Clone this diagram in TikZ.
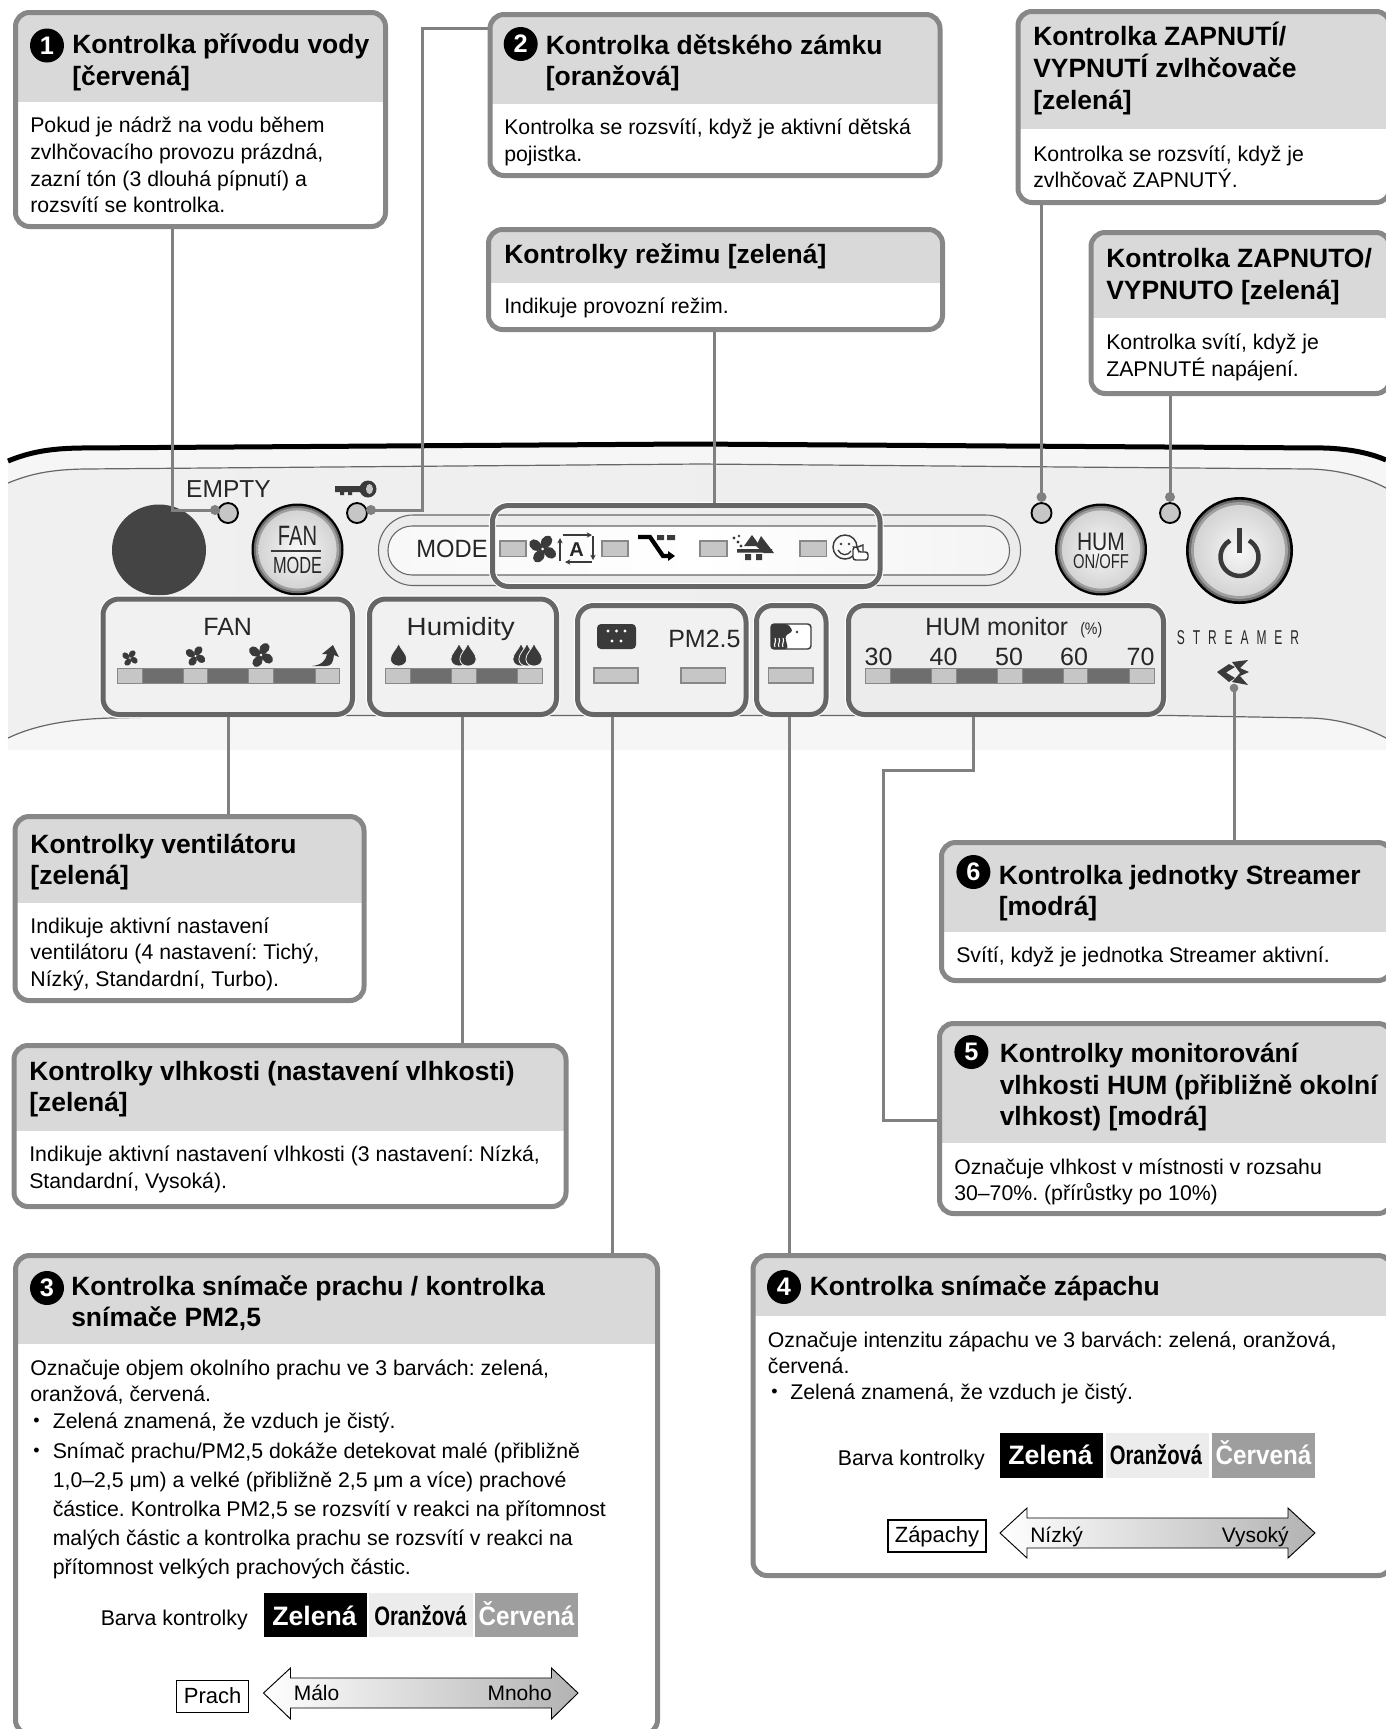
\documentclass[tikz,border=0pt]{standalone}
\usepackage{fontspec}
\usepackage{graphicx}
\usetikzlibrary{fit,arrows.meta}
\setmainfont{Liberation Sans}
\AtBeginDocument{\frenchspacing}
\definecolor{hdrc}{HTML}{D9D9D9}
\definecolor{boxc}{HTML}{878787}
\definecolor{connc}{HTML}{808080}
\definecolor{grpc}{HTML}{666666}
\definecolor{ledl}{HTML}{C6C6C6}
\definecolor{ledd}{HTML}{6E6E6E}
\definecolor{ledb}{HTML}{888888}
\definecolor{icdk}{HTML}{3A3A3A}
\definecolor{pnla}{HTML}{FCFCFC}
\definecolor{pnlb}{HTML}{F1F1F1}
\definecolor{pnlc}{HTML}{ECECEC}
\definecolor{pnld}{HTML}{F8F8F8}
\definecolor{strb}{HTML}{F6F6F6}
\pgfdeclarehorizontalshading{panelsh}{100bp}{color(0bp)=(pnla); color(8bp)=(pnlb); color(92bp)=(pnlc); color(100bp)=(pnld)}
\pgfdeclarehorizontalshading{outersh}{100bp}{color(0bp)=(white); color(8bp)=(strb); color(92bp)=(strb); color(100bp)=(white)}
\pgfdeclarehorizontalshading{pillsh}{100bp}{color(0bp)=(pnlb); color(50bp)=(white); color(100bp)=(hdrc!60!white)}
\tikzset{
 boxline/.style={rectangle,draw=boxc,line width=3.75pt,rounded corners=10.5pt,inner sep=0pt},
 ttl/.style={anchor=north west,inner sep=0pt,align=left,font=\fontsize{19.85pt}{23.6pt}\bfseries\selectfont},
 bod/.style={anchor=north west,inner sep=0pt,align=left,font=\fontsize{15.95pt}{20pt}\selectfont},
 bodb/.style={anchor=north west,inner sep=0pt,align=left,font=\fontsize{15.95pt}{21.8pt}\selectfont},
 badge/.style={circle,fill=black,text=white,inner sep=0pt,minimum size=25.5pt,font=\fontsize{19pt}{19pt}\bfseries\selectfont},
 conn/.style={draw=connc,line width=2.25pt,line join=miter},
 dotc/.style={circle,fill=connc,inner sep=0pt,minimum size=7.5pt},
 ledc/.style={circle,draw=black,line width=1.4pt,fill=ledl,inner sep=0pt,minimum size=15pt},
 ledrect/.style={draw=ledb,fill=ledl,line width=.8pt},
 grp/.style={rectangle,draw=grpc,line width=3.75pt,rounded corners=12pt,inner sep=0pt},
 pnl/.style={anchor=base,inner sep=0pt,text=black!85,font=\fontsize{18.75pt}{20pt}\selectfont},
 swatch/.style={anchor=base,inner sep=0pt,font=\fontsize{20pt}{20pt}\bfseries\selectfont},
 smallt/.style={anchor=base west,inner sep=0pt,font=\fontsize{15.75pt}{20pt}\selectfont},
 legt/.style={anchor=base,inner sep=0pt,font=\fontsize{16pt}{20pt}\selectfont},
 legbox/.style={draw=black,line width=.8pt,inner sep=0pt,text height=13pt,text depth=2.6pt,font=\fontsize{16.5pt}{18pt}\selectfont},
 thinl/.style={draw=icdk,line width=.9pt},
}
\newcommand\sth{\rule{0pt}{24pt}}
\newcommand\bul{{\fontsize{13.5pt}{13.5pt}\selectfont\raisebox{1pt}{•}}}
\newcommand\cnd[2]{\scalebox{#1}[1]{#2}}
\newcommand\callout[6]{%
 \begin{scope}\clip[rounded corners=10.5pt] (#2,#3) rectangle (#4,#5);
 \fill[white] (#2,#3) rectangle (#4,#5);
 \fill[hdrc] (#2,#3) rectangle (#4,#6);
 \end{scope}
 \node[boxline,fit={(#2,#3) (#4,#5)},name=#1] {};}
\newcommand\group[6]{%
 \draw[white,line width=5.4pt,rounded corners=12pt] (#2,#3) rectangle (#4,#5);
 \node[grp,fill=#6,fit={(#2,#3) (#4,#5)},name=#1] {};}
\newcommand\btn[4]{%
 \begin{scope}[shift={(#1,#2)},scale=#3]
 \fill[black] (0,0) circle (10);
 \fill[ledd] (0,0) circle (9.5);
 \fill[black!38] (0,0) circle (9.05);
 \shade[inner color=black!3,outer color=black!17] (0,0) circle (8.5);
 \end{scope}}
\newcommand\fanic[3]{%
 \begin{scope}[shift={(#1,#2)},scale=#3]
 \foreach \a in {20,110,200,290}{\fill[icdk,rotate=\a] (0,0) .. controls (-1.5,-6) and (4,-10.5) .. (8.5,-7) .. controls (11,-3) and (6,1) .. (0,0);}
 \fill[white] (0,0) circle (1.1);
 \end{scope}}
\newcommand\dropic[3]{%
 \begin{scope}[shift={(#1,#2)},scale=#3]
 \path[fill=icdk,draw=pnlb,line width=.6pt] (0,-10) .. controls (2,-5) and (6.5,-2) .. (6.5,2.5) .. controls (6.5,6) and (3.5,8) .. (0,8) .. controls (-3.5,8) and (-6.5,6) .. (-6.5,2.5) .. controls (-6.5,-2) and (-2,-5) .. (0,-10) -- cycle;
 \end{scope}}
\begin{document}
\begin{tikzpicture}[x=0.75pt,y=-0.75pt]
\useasboundingbox (0,0) rectangle (1386,1729);
\clip (0,0) rectangle (1386,1729);
% ---- panel
\shade[shading=outersh] (8,462) .. controls (30,453) and (50,449) .. (80,448.5) -- (690,444) -- (1325,448) .. controls (1350,449) and (1370,453) .. (1386,460) -- (1386,750) -- (8,750) -- cycle;
\shade[shading=panelsh] (8,483) .. controls (30,474) and (50,469.5) .. (85,469) -- (700,464) -- (1311,469) .. controls (1340,470) and (1365,477) .. (1386,488) -- (1386,738) .. controls (1365,727) and (1340,719) .. (1311,718) -- (1170,715.5) -- (230,715.5) -- (112,718) .. controls (70,719) and (35,725) .. (8,738) -- cycle;
\draw[black,line width=3.75pt] (8,461) .. controls (30,452) and (50,448.5) .. (80,448) -- (690,444) -- (1325,448) .. controls (1350,449) and (1370,453) .. (1386,460);
\draw[grpc,line width=.9pt] (8,483) .. controls (30,474) and (50,469.5) .. (85,469) -- (700,464) -- (1311,469) .. controls (1340,470) and (1365,477) .. (1386,488);
\draw[grpc,line width=.9pt] (8,738) .. controls (35,725) and (70,719) .. (112,718) -- (230,715.5) -- (1170,715.5) -- (1311,718) .. controls (1340,719) and (1365,727) .. (1386,738);
% dark circle
\fill[icdk!95!white] (159,550) ellipse (47 and 45.5);
% labels on panel
\node[pnl,font=\fontsize{18.4pt}{20pt}\selectfont] (tEmpty) at (228.5,497) {EMPTY};
% key icon
\fill[icdk] (335,486) -- (366,486) -- (366,492) -- (352,492) -- (352,495) -- (348,495) -- (348,492) -- (344,492) -- (344,495) -- (340,495) -- (340,492) -- (335,492) -- cycle;
\fill[icdk] (368,489) circle (8.5);
\fill[ledl] (369.5,489) ellipse (3.5 and 5);
% LEDs
\node[ledc] (led1) at (228,513) {};
\node[ledc] (led2) at (357,513) {};
\node[ledc] (led3) at (1041.5,513) {};
\node[ledc] (led4) at (1170,513) {};
\node[dotc] (dot1) at (215,510) {};
\node[dotc] (dot2) at (371,510) {};
\node[dotc] (dot3) at (1041.5,497) {};
\node[dotc] (dot4) at (1170,497) {};
\node[dotc,minimum size=6.5pt] (dot6) at (1234,688) {};
% buttons
\btn{297.5}{549.5}{4.6}{}
\node[pnl] (tFan) at (297.5,545) {\fontsize{21pt}{21pt}\selectfont\cnd{.72}{FAN}};
\draw[icdk,line width=1.1pt] (270.5,551) -- (321,551);
\node[pnl] (tMode) at (297.5,573) {\fontsize{17.5pt}{18pt}\selectfont\cnd{.7}{MODE}};
\btn{1101}{549.5}{4.6}{}
\node[pnl] (tHum) at (1101,550) {\fontsize{19pt}{20pt}\selectfont\cnd{.83}{HUM}};
\node[pnl] (tOnoff) at (1101,568) {\fontsize{15pt}{16pt}\selectfont\cnd{.74}{ON/OFF}};
\btn{1239.5}{550.5}{5.35}{}
\draw[icdk,line width=3.4pt] (1249,540.5) arc[start angle=-60,end angle=240,radius=19];
\draw[icdk,line width=3.4pt] (1239.5,528) -- (1239.5,553);
% mode pill
\path[fill=pnlc,draw=grpc,line width=.8pt,rounded corners=26pt] (378.5,515) rectangle (1020.5,585.5);
\shade[shading=pillsh,rounded corners=18pt] (388,526) rectangle (1009.5,575);
\draw[grpc,line width=.8pt,rounded corners=18pt] (388,526) rectangle (1009.5,575);
\node[pnl] (tModeL) at (452,557) {\cnd{.95}{MODE}};
% mode highlight
\draw[white,line width=5.4pt,rounded corners=12pt] (492.5,505.5) rectangle (880,586.5);
\node[grp,fit={(492.5,505.5) (880,586.5)},name=hlmode] {};
\foreach \a/\b in {500/526,602/628,700/727,800/826.5}{\draw[ledrect] (\a,541) rectangle (\b,556.5);}
% mode icons
\fanic{542.7}{549}{1.35}
\draw[thinl,-{Stealth[length=4pt,width=4pt]}] (563,535) -- (592,535);
\draw[thinl,-{Stealth[length=4pt,width=4pt]}] (593,536) -- (593,560);
\draw[thinl,-{Stealth[length=4pt,width=4pt]}] (592,562) -- (565,562);
\draw[thinl,-{Stealth[length=4pt,width=4pt]}] (560,561) -- (560,538);
\node[pnl,font=\fontsize{15pt}{15pt}\bfseries\selectfont] (tA) at (576.5,556) {A};
\draw[black,line width=3.2pt] (638,537) -- (650,537) -- (663,556) -- (669,556);
\fill[black] (668,551) -- (675,556) -- (668,561) -- cycle;
\fill[icdk] (657,535) rectangle (664,540) (667,535) rectangle (675,540);
\fill[icdk] (752,535) -- (760,546) -- (744,546) -- cycle;
\fill[icdk] (761,536) -- (774,553) -- (764,553) -- (756,546) -- cycle;
\fill[icdk] (737,549) rectangle (772,552.5) (745,554) rectangle (751,560) (756,554) rectangle (762,560);
\fill[icdk] (734,538) circle (1.6) (738,542) circle (1.6) (741,546) circle (1.6) (739,536) circle (1.3);
\draw[icdk,line width=1.1pt] (845,547) circle (12);
\fill[icdk] (841,544) circle (1.4) (849,544) circle (1.4);
\draw[icdk,line width=1pt] (838,550) .. controls (841,556) and (848,556) .. (851,551);
\path[fill=white,draw=icdk,line width=1.1pt,rounded corners=2pt] (853,547) -- (858,547) -- (858,552) -- (868,552) -- (868,560) -- (853,560) -- cycle;
\path[fill=white,draw=icdk,line width=1.1pt] (858,547) -- (863,545) -- (863,552);
% FAN group
\group{gfan}{103}{599}{352.5}{714.5}{pnlb}
\node[pnl] (tFanG) at (227.7,635) {FAN};
\foreach \a/\b/\c in {117/142/ledl,142/183/ledd,183/207.5/ledl,207.5/248/ledd,248/273/ledl,273/315/ledd,315/339/ledl}{\draw[draw=ledb,fill=\c,line width=.7pt] (\a,668) rectangle (\b,683);}
\fanic{130}{658}{.78}
\fanic{195.5}{656}{.98}
\fanic{261}{655}{1.2}
\fill[icdk] (312,666) .. controls (322,665) and (326,660) .. (327,654) -- (322,654) -- (333,645) -- (339,657) -- (334,655) .. controls (333,662) and (332,666) .. (326,666) -- cycle;
% Humidity group
\group{ghumi}{369.5}{599}{556.5}{714.5}{pnlb}
\node[pnl] (tHumi) at (460.7,635) {\cnd{1.11}{Humidity}};
\foreach \a/\b/\c in {385/410/ledl,410/451/ledd,451/476/ledl,476/517.5/ledd,517.5/542/ledl}{\draw[draw=ledb,fill=\c,line width=.7pt] (\a,668) rectangle (\b,683);}
\dropic{398.6}{656}{1.25}
\dropic{459}{656}{1.25}\dropic{468}{656}{1.25}
\dropic{521}{656}{1.25}\dropic{527}{656}{1.25}\dropic{534}{656}{1.25}
% PM group
\group{gpm}{577.5}{605.5}{746}{714.5}{pnlb}
\path[fill=icdk,rounded corners=3pt] (597,624) rectangle (636,649);
\fill[white] (608,631) circle (1.6) (616.5,631) circle (1.6) (625,631) circle (1.6) (612,641) circle (1.6) (621,641) circle (1.6);
\node[pnl,anchor=base west] (tPm) at (668,647) {PM2.5};
\draw[ledrect] (594,668) rectangle (638,683);
\draw[ledrect] (681,668) rectangle (725.5,683);
% odour group
\group{godo}{756.5}{605.5}{826}{714.5}{pnlb}
\path[fill=white,draw=icdk,line width=1.1pt,rounded corners=2.5pt] (771,624) rectangle (811,649);
\path[fill=icdk,rounded corners=2pt] (771,624) -- (788,624) -- (793,631) -- (785,636) -- (788,649) -- (771,649) -- cycle;
\fill[icdk] (797,632) circle (1.4);
\draw[white,line width=.8pt] (775,647) .. controls (773,644) and (777,642) .. (775,638) (779,647) .. controls (777,644) and (781,642) .. (779,638) (783,647) .. controls (781,644) and (785,642) .. (783,638);
\draw[ledrect] (768.5,668) rectangle (813,683);
% HUM monitor group
\group{ghm}{848.5}{605.5}{1163.5}{714.5}{pnlc}
\node[pnl,anchor=base west] (tHumM) at (925,635) {\cnd{.97}{HUM monitor}};
\node[pnl,anchor=base west,font=\fontsize{12.5pt}{14pt}\selectfont] (tPct) at (1080,634) {\cnd{.85}{(\%)}};
\foreach \n/\x in {30/878.6,40/943.6,50/1009,60/1074,70/1140.6}{\node[pnl] (tn\n) at (\x,665) {\n};}
\foreach \a/\b/\c in {865/890.5/ledl,890.5/931/ledd,931/956/ledl,956/997/ledd,997/1022/ledl,1022/1063/ledd,1063/1087/ledl,1087/1129/ledd,1129/1154/ledl}{\draw[draw=ledb,fill=\c,line width=.7pt] (\a,668) rectangle (\b,683);}
% streamer
\node[pnl,font=\fontsize{15pt}{15pt}\selectfont\addfontfeature{LetterSpace=66}] (tStr) at (1238,644) {\cnd{.6}{STREAMER}};
\fill[icdk] (1217,672) -- (1229,664) -- (1235,667) -- (1226,672.5) -- (1235,678) -- (1229,682) -- cycle;
\fill[icdk] (1232,662) -- (1248,660) -- (1240,668) -- (1249,672) -- (1240,676) -- (1248,685) -- (1232,682) -- (1240,673) -- cycle;
% ---- connector bends
\coordinate (k1) at (172,510);
\coordinate (k2a) at (422.5,28);
\coordinate (k2b) at (422.5,510);
\coordinate (k3) at (714,330);
\coordinate (kfan) at (228,717);
\coordinate (khumi) at (462.5,717);
\coordinate (kpm) at (612,717);
\coordinate (kodo) at (789.5,717);
\coordinate (khm1) at (973.5,770);
\coordinate (khm2) at (883.5,770);
\coordinate (khm3) at (883.5,1120);
% ---- callouts
\callout{b1}{15.5}{12.5}{385.5}{226.5}{102}
\callout{b2}{490}{14.5}{940}{175.5}{104}
\callout{bm}{488.5}{229.5}{942.5}{329.5}{283}
\callout{bh}{1018}{11.5}{1390}{202.5}{129}
\callout{bp}{1091}{232.5}{1390}{393.5}{318}
\callout{bf}{15}{816.5}{364}{1000.5}{903}
\callout{bv}{14}{1045.5}{566}{1206.5}{1131}
\callout{b3}{15.5}{1255.5}{657.5}{1734}{1344}
\callout{b4}{753}{1255.5}{1392}{1575.5}{1316}
\callout{b6}{941.5}{842.5}{1392}{980.5}{932}
\callout{b5}{939.5}{1023.5}{1392}{1213.5}{1143}
% ---- connectors
\draw[conn] (b1.south -| k1) -- (k1) -- (dot1.center);
\draw[conn] (dot2.center) -- (k2b) -- (k2a) -- (b2.west |- k2a);
\draw[conn] (bm.south -| k3) -- (hlmode.north -| k3);
\draw[conn] (bh.south -| dot3) -- (dot3.center);
\draw[conn] (bp.south -| dot4) -- (dot4.center);
\draw[conn] (gfan.south -| kfan) -- (bf.north -| kfan);
\draw[conn] (ghumi.south -| khumi) -- (bv.north -| khumi);
\draw[conn] (gpm.south -| kpm) -- (b3.north -| kpm);
\draw[conn] (godo.south -| kodo) -- (b4.north -| kodo);
\draw[conn] (ghm.south -| khm1) -- (khm1) -- (khm2) -- (khm3) -- (b5.west |- khm3);
\draw[conn] (b6.north -| dot6) -- (dot6.center);
% ---- badges and text
\node[badge] (n1) at (47,45.5) {1};
\node[ttl] (t1) at (72,53.5-32) {\sth Kontrolka přívodu vody\\{}[červená]};
\node[bod] (d1) at (30,132.7-32) {\sth Pokud je nádrž na vodu během\\zvlhčovacího provozu prázdná,\\zazní tón (3 dlouhá pípnutí) a\\rozsvítí se kontrolka.};
\node[badge] (n2) at (520.7,44) {2};
\node[ttl] (t2) at (545.5,54-32) {\sth Kontrolka dětského zámku\\{}[oranžová]};
\node[bod] (d2) at (504,134.3-32) {\sth Kontrolka se rozsvítí, když je aktivní dětská\\pojistka.};
\node[ttl] (tm) at (504,263-32) {\sth Kontrolky režimu [zelená]};
\node[bod] (dm) at (504,313-32) {\sth Indikuje provozní režim.};
\node[ttl,font=\fontsize{19.85pt}{24.2pt}\bfseries\selectfont] (th) at (1033,45-32) {\sth Kontrolka ZAPNUTÍ/\\VYPNUTÍ zvlhčovače\\{}[zelená]};
\node[bod] (dh) at (1033,161-32) {\sth Kontrolka se rozsvítí, když je\\zvlhčovač ZAPNUTÝ.};
\node[ttl] (tp) at (1106,267.7-32) {\sth Kontrolka ZAPNUTO/\\VYPNUTO [zelená]};
\node[bod] (dp) at (1106,349.3-32) {\sth Kontrolka svítí, když je\\ZAPNUTÉ napájení.};
\node[ttl] (tf) at (30.2,853.2-32) {\sth Kontrolky ventilátoru\\{}[zelená]};
\node[bod] (df) at (30.2,933-32) {\sth Indikuje aktivní nastavení\\ventilátoru (4 nastavení: Tichý,\\Nízký, Standardní, Turbo).};
\node[ttl] (tv) at (29,1080-32) {\sth Kontrolky vlhkosti (nastavení vlhkosti)\\{}[zelená]};
\node[bod] (dv) at (29,1161.7-32) {\sth Indikuje aktivní nastavení vlhkosti (3 nastavení: Nízká,\\Standardní, Vysoká).};
\node[badge] (n6) at (973.4,872) {6};
\node[ttl] (t6) at (998.5,884-32) {\sth Kontrolka jednotky Streamer\\{}[modrá]};
\node[bod] (d6) at (956,962.7-32) {\sth Svítí, když je jednotka Streamer aktivní.};
\node[badge] (n5) at (971.4,1052) {5};
\node[ttl] (t5) at (999.5,1062.7-32) {\sth Kontrolky monitorování\\vlhkosti HUM (přibližně okolní\\vlhkost) [modrá]};
\node[bod] (d5) at (954,1174-32) {\sth Označuje vlhkost v místnosti v rozsahu\\30–70\%. (přírůstky po 10\%)};
% box 3
\node[badge] (n3) at (47,1288) {3};
\node[ttl] (t3) at (71,1295-32) {\sth Kontrolka snímače prachu / kontrolka\\snímače PM2,5};
\node[bod] (d3a) at (30,1375-32) {\sth Označuje objem okolního prachu ve 3 barvách: zelená,\\oranžová, červená.};
\node[bod] (d3b) at (33,1428-32) {\sth \bul};
\node[bod] (d3c) at (52.5,1428-32) {\sth Zelená znamená, že vzduch je čistý.};
\node[bod] (d3d) at (33,1458-32) {\sth \bul};
\node[bodb] (d3e) at (52.5,1458-32) {\sth Snímač prachu/PM2,5 dokáže detekovat malé (přibližně\\1,0–2,5 μm) a velké (přibližně 2,5 μm a více) prachové\\částice. Kontrolka PM2,5 se rozsvítí v reakci na přítomnost\\malých částic a kontrolka prachu se rozsvítí v reakci na\\přítomnost velkých prachových částic.};
\node[legt,anchor=base west] (bk3) at (100.5,1625) {Barva kontrolky};
\fill[black] (264,1593) rectangle (367,1637);
\fill[pnlc] (368.5,1593) rectangle (473,1637);
\fill[black!38] (475,1593) rectangle (578,1637);
\node[swatch,text=white] (z3) at (314.5,1625) {Zelená};
\node[swatch] (o3) at (420.5,1625) {\cnd{.76}{Oranžová}};
\node[swatch,text=white] (c3) at (526.5,1625) {\cnd{.91}{Červená}};
\node[legbox,minimum width=54pt,minimum height=23.5pt,name=lg3] at (212.7,1696.5) {Prach};
\shade[left color=white,right color=black!30,draw=black,line width=.7pt] (263.5,1693) -- (290.5,1668) -- (290.5,1678) -- (551.5,1678) -- (551.5,1668) -- (578,1693) -- (551.5,1719) -- (551.5,1708) -- (290.5,1708) -- (290.5,1719) -- cycle;
\node[smallt] (m3a) at (293.5,1700.5) {Málo};
\node[smallt,anchor=base east] (m3b) at (552,1700.5) {Mnoho};
% box 4
\node[badge] (n4) at (784,1287) {4};
\node[ttl] (t4) at (809.5,1295-32) {\sth Kontrolka snímače zápachu};
\node[bod] (d4a) at (767.6,1347-32) {\sth Označuje intenzitu zápachu ve 3 barvách: zelená, oranžová,\\červená.};
\node[bod] (d4b) at (771,1399-32) {\sth \bul};
\node[bod] (d4c) at (790,1399-32) {\sth Zelená znamená, že vzduch je čistý.};
\node[legt,anchor=base west] (bk4) at (837.5,1465) {Barva kontrolky};
\fill[black] (1000,1433) rectangle (1103,1478);
\fill[pnlc] (1106,1433) rectangle (1209,1478);
\fill[black!38] (1212,1433) rectangle (1315,1478);
\node[swatch,text=white] (z4) at (1050.5,1464) {Zelená};
\node[swatch] (o4) at (1156,1464) {\cnd{.76}{Oranžová}};
\node[swatch,text=white] (c4) at (1263.5,1464) {\cnd{.91}{Červená}};
\node[legbox,minimum width=73.5pt,minimum height=24pt,name=lg4] at (937,1536) {Zápachy};
\shade[left color=white,right color=black!30,draw=black,line width=.7pt] (1000,1533) -- (1027,1508) -- (1027,1518) -- (1288,1518) -- (1288,1508) -- (1315,1533) -- (1288,1558) -- (1288,1548) -- (1027,1548) -- (1027,1558) -- cycle;
\node[smallt] (m4a) at (1030,1542) {Nízký};
\node[smallt,anchor=base east] (m4b) at (1289,1542) {Vysoký};
\end{tikzpicture}
\end{document}
